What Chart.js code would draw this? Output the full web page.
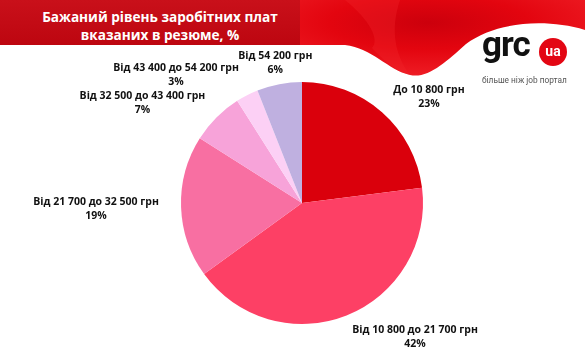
<!DOCTYPE html>
<html>
<head>
<meta charset="utf-8">
<script src="https://cdn.jsdelivr.net/npm/chart.js@4"></script>
<style>
  html, body { margin:0; padding:0; background:#fff; }
  #wrap { position:relative; width:585px; height:354px; overflow:hidden; font-family:"Open Sans", sans-serif; }
  #bg { position:absolute; left:0; top:0; }
  #title { position:absolute; left:0; top:8px; width:320px; text-align:center; color:#fff; font-weight:700; font-size:13.6px; line-height:18px; }
  #logo { position:absolute; left:482px; top:30px; width:100px; height:60px; }
  #grc { position:absolute; left:0; top:-6px; font-family:Roboto, sans-serif; font-weight:700; font-size:35px; letter-spacing:-1px; color:#111; }
  #ua { position:absolute; left:57px; top:8px; width:28px; height:28px; border-radius:50%; background:#e30613; color:#fff; font-family:Roboto, sans-serif; font-weight:700; font-size:14px; line-height:26px; text-align:center; }
  #sub { position:absolute; left:0; top:45px; font-family:Roboto, sans-serif; font-size:8.3px; color:#555; white-space:nowrap; }
  #c { position:absolute; left:0; top:0; }
</style>
</head>
<body>
<div id="wrap">
  <svg id="bg" width="585" height="354" viewBox="0 0 585 354">
    <defs>
      <linearGradient id="band" x1="0" y1="0" x2="0" y2="1">
        <stop offset="0" stop-color="#c9101a"/>
        <stop offset="1" stop-color="#bd0610"/>
      </linearGradient>
      <radialGradient id="wave" cx="0.45" cy="0.3" r="0.7">
        <stop offset="0" stop-color="#cc000c"/>
        <stop offset="0.5" stop-color="#e3050f"/>
        <stop offset="1" stop-color="#ee1c24"/>
      </radialGradient>
    </defs>
    <rect x="0" y="0" width="360" height="45" fill="url(#band)"/>
    <path d="M300,0 L585,0 L585,30 C545,18 495,22 466,44 C446,62 428,79 410,75 C388,70 372,48 345,45 L300,45 Z" fill="url(#wave)"/>
    <path d="M345,0 C370,20 380,40 372,48 C385,62 398,72 410,75 C395,55 390,30 400,0 Z" fill="#f2262c" opacity="0.35"/>
  </svg>
  <div id="title">Бажаний рівень заробітних плат<br>вказаних в резюме, %</div>
  <canvas id="c" width="585" height="354"></canvas>
  <div id="logo">
    <div id="grc">grc</div>
    <div id="ua">ua</div>
    <div id="sub">більше ніж job портал</div>
  </div>
</div>
<script>
const categories = [
  "До 10 800 грн",
  "Від 10 800 до 21 700 грн",
  "Від 21 700 до 32 500 грн",
  "Від 32 500 до 43 400 грн",
  "Від 43 400 до 54 200 грн",
  "Від 54 200 грн"
];
const shares = [23, 42, 19, 7, 3, 6];
const sliceColors = ["#da000c", "#fd4065", "#f86fa2", "#f7a3d9", "#fcd0f5", "#bfb0e0"];
// label offsets (px) from the slice's outer mid-point
const labelOffsets = [[47, -15.5], [68.5, 21.5], [-85, 2], [-74, -14], [-71, -20], [-4, -21]];

const labelPlugin = {
  id: 'outLabels',
  afterDatasetsDraw(chart) {
    const ctx = chart.ctx;
    const meta = chart.getDatasetMeta(0);
    ctx.save();
    ctx.font = '700 10.5px "Open Sans"';
    ctx.fillStyle = '#111';
    ctx.textAlign = 'center';
    ctx.textBaseline = 'middle';
    meta.data.forEach((arc, i) => {
      const p = arc.getProps(['x', 'y', 'startAngle', 'endAngle', 'outerRadius'], true);
      const mid = (p.startAngle + p.endAngle) / 2;
      const ox = p.x + Math.cos(mid) * p.outerRadius + labelOffsets[i][0];
      const oy = p.y + Math.sin(mid) * p.outerRadius + labelOffsets[i][1];
      ctx.fillText(categories[i], ox, oy - 7);
      ctx.fillText(shares[i] + '%', ox, oy + 7);
    });
    ctx.restore();
  }
};

new Chart(document.getElementById('c'), {
  type: 'pie',
  data: {
    labels: categories,
    datasets: [{
      data: shares,
      backgroundColor: sliceColors,
      borderWidth: 0,
      hoverOffset: 0,
      offset: 0
    }]
  },
  options: {
    responsive: false,
    animation: false,
    layout: { padding: { left: 181, right: 162, top: 82, bottom: 30 } },
    plugins: { legend: { display: false }, tooltip: { enabled: false } }
  },
  plugins: [labelPlugin]
});
</script>
</body>
</html>
